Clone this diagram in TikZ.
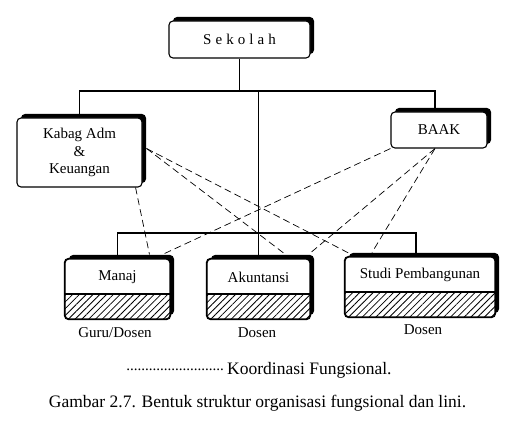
\documentclass[tikz,border=0pt]{standalone}
\usepackage{fontspec}
\setmainfont{Liberation Serif}
\usetikzlibrary{positioning,calc,shadows,patterns.meta}
\tikzset{
    orgbox/.style={
        draw,
        line width=1.1pt,
        fill=white,
        rounded corners=4pt,
        drop shadow={shadow xshift=4pt, shadow yshift=4pt, fill=black, opacity=1},
        align=center,
        inner sep=0pt
    },
    unitbox/.style={
        orgbox,
        minimum height=60pt
    },
    line/.style={
        line width=1.1pt
    },
    koord/.style={
        line width=0.7pt,
        dash pattern=on 7pt off 4pt
    },
    hatch/.style={
        pattern={Lines[angle=45, distance=4.8pt, line width=0.8pt]}
    },
    bigtext/.style={
        font=\fontsize{17.5}{20}\selectfont
    }
}
\begin{document}
\begin{tikzpicture}[x=1pt, y=-1pt, font=\fontsize{15}{17.5}\selectfont]
    \useasboundingbox (0,0) rectangle (524,435);

    \node[orgbox, minimum width=141pt, minimum height=37pt] (sekolah) at (239.5,39.5)
        {\addfontfeature{LetterSpace=27}Sekolah};
    \node[orgbox, minimum width=125pt, minimum height=69pt] (kabag) at (79.5,152.5)
        {Kabag Adm\\\&\\Keuangan};
    \node[orgbox, minimum width=96pt, minimum height=36pt] (baak) at (439,130) {BAAK};

    \node[unitbox, minimum width=105pt] (manaj) at (117.5,289) {};
    \node[unitbox, minimum width=103pt] (akun) at (258.5,289) {};
    \node[unitbox, minimum width=150pt] (studi) at (420,287) {};

    % hatched lower part of each unit
    \foreach \u/\d in {manaj/294, akun/294, studi/292} {
        \begin{scope}
            \clip[rounded corners=4pt] (\u.south west) rectangle (\u.north east);
            \fill[hatch] (\u.south west) rectangle (\u.east |- 0,\d);
        \end{scope}
        \draw[line] (\u.west |- 0,\d) -- (\u.east |- 0,\d);
        \draw[line, rounded corners=4pt] (\u.south west) rectangle (\u.north east);
    }

    \node (manajlbl) at (117.5,277) {Manaj};
    \node (akunlbl) at (258.5,277) {Akuntansi};
    \node (studilbl) at (420,275) {Studi Pembangunan};

    \node (guru) at (115,333) {Guru/Dosen};
    \node (dosenA) at (257,333) {Dosen};
    \node (dosenB) at (423,330) {Dosen};

    % Line
    \draw[line] (sekolah.south) -- (sekolah.south |- 0,91);
    \draw[line] (kabag.north) |- (435,91) -- (435,0 |- baak.north);
    \draw[line] (akun.north |- 0,91) -- (akun.north);
    \draw[line] (manaj.north) |- (416,233) -- (416,0 |- studi.north);

    % Koordinasi fungsional
    \draw[koord] ($(kabag.east)+(4,-4)$) -- ($(akun.north)+(27,-4)$);
    \draw[koord] ($(kabag.east)+(4,-4)$) -- ($(studi.north west)+(5,-3)$);
    \draw[koord] ($(kabag.south east)+(-7,0)$) -- ($(manaj.north)+(32,-4)$);
    \draw[koord] (baak.south west) -- ($(manaj.north east)+(-8,-4)$);
    \draw[koord] ($(baak.south)+(-4,0)$) -- ($(akun.north east)+(-2,-4)$);
    \draw[koord] ($(baak.south)+(-4,0)$) -- ($(studi.north)+(-48,-4)$);

    \node[bigtext, anchor=west, inner sep=0pt] (koordinasi) at (227,370) {Koordinasi Fungsional.};
    \node[anchor=east, inner sep=0pt] (dots) at ($(koordinasi.west)+(-3,0)$) {..........................};
    \node[bigtext] (caption) at (257.5,403) {Gambar 2.7. Bentuk struktur organisasi fungsional dan lini.};
\end{tikzpicture}
\end{document}
